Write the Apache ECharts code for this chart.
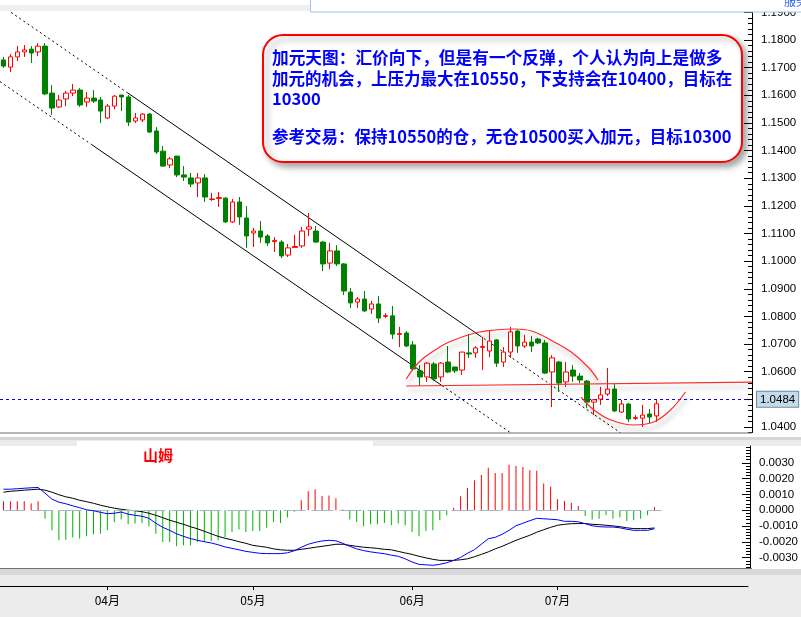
<!DOCTYPE html>
<html>
<head>
<meta charset="utf-8">
<script src="https://cdn.jsdelivr.net/npm/echarts@6/dist/echarts.min.js"></script>
<style>
html,body{margin:0;padding:0;background:#fff;}
#chart{width:801px;height:617px;}
</style>
</head>
<body>
<div id="chart"></div>
<script>
// USD/CAD daily bars, 2007.03.12 – 2007.07.20
const tradeDates = [
  '2007.03.12','2007.03.13','2007.03.14','2007.03.15','2007.03.16',
  '2007.03.19','2007.03.20','2007.03.21','2007.03.22','2007.03.23',
  '2007.03.26','2007.03.27','2007.03.28','2007.03.29','2007.03.30',
  '2007.04.02','2007.04.03','2007.04.04','2007.04.05','2007.04.06',
  '2007.04.09','2007.04.10','2007.04.11','2007.04.12','2007.04.13',
  '2007.04.16','2007.04.17','2007.04.18','2007.04.19','2007.04.20',
  '2007.04.23','2007.04.24','2007.04.25','2007.04.26','2007.04.27',
  '2007.04.30',
  '2007.05.01','2007.05.02','2007.05.03','2007.05.04',
  '2007.05.07','2007.05.08','2007.05.09','2007.05.10','2007.05.11',
  '2007.05.14','2007.05.15','2007.05.16','2007.05.17','2007.05.18',
  '2007.05.21','2007.05.22','2007.05.23','2007.05.24','2007.05.25',
  '2007.05.28','2007.05.29','2007.05.30','2007.05.31',
  '2007.06.01',
  '2007.06.04','2007.06.05','2007.06.06','2007.06.07','2007.06.08',
  '2007.06.11','2007.06.12','2007.06.13','2007.06.14','2007.06.15',
  '2007.06.18','2007.06.19','2007.06.20','2007.06.21','2007.06.22',
  '2007.06.25','2007.06.26','2007.06.27','2007.06.28','2007.06.29',
  '2007.07.02','2007.07.03','2007.07.04','2007.07.05','2007.07.06',
  '2007.07.09','2007.07.10','2007.07.11','2007.07.12','2007.07.13',
  '2007.07.16','2007.07.17','2007.07.18','2007.07.19','2007.07.20'
];

const opens = [
  1.1728,1.1702,1.1739,1.1757,1.1767,1.1757,1.1778,1.1608,1.1558,1.1587,
  1.1608,1.1619,1.1576,1.1590,1.1583,1.1518,1.1561,1.1601,1.1594,1.1507,
  1.1511,1.1532,1.1471,1.1398,1.1348,1.1380,1.1312,1.1301,1.1283,1.1301,
  1.1223,1.1227,1.1228,1.1142,1.1214,1.1156,1.1102,1.1109,1.1091,1.1071,
  1.1069,1.1022,1.1049,1.1055,1.1116,1.1109,1.1069,1.0993,1.1037,1.0990,
  1.0888,1.0852,1.0863,1.0827,1.0845,1.0800,1.0802,1.0735,1.0740,1.0697,
  1.0603,1.0581,1.0628,1.0581,1.0635,1.0617,1.0606,1.0668,1.0668,1.0688,
  1.0675,1.0715,1.0635,1.0671,1.0747,1.0693,1.0707,1.0718,1.0704,1.0599,
  1.0635,1.0563,1.0606,1.0584,1.0566,1.0490,1.0501,1.0519,1.0537,1.0454,
  1.0483,1.0431,1.0432,1.0447,1.0440
];
const closes = [
  1.1706,1.1739,1.1757,1.1764,1.1753,1.1778,1.1605,1.1554,1.1583,1.1608,
  1.1619,1.1565,1.1590,1.1579,1.1543,1.1561,1.1597,1.1594,1.1503,1.1518,
  1.1532,1.1467,1.1395,1.1344,1.1370,1.1312,1.1304,1.1279,1.1301,1.1232,
  1.1225,1.1230,1.1142,1.1214,1.1160,1.1091,1.1109,1.1087,1.1066,1.1075,
  1.1019,1.1048,1.1053,1.1109,1.1124,1.1069,1.0990,1.1037,1.0990,1.0892,
  1.0849,1.0863,1.0820,1.0845,1.0794,1.0803,1.0736,1.0738,1.0693,1.0610,
  1.0581,1.0631,1.0574,1.0631,1.0599,1.0603,1.0671,1.0664,1.0686,1.0691,
  1.0711,1.0631,1.0671,1.0744,1.0693,1.0707,1.0693,1.0704,1.0595,1.0650,
  1.0559,1.0599,1.0584,1.0570,1.0490,1.0498,1.0516,1.0537,1.0458,1.0483,
  1.0429,1.0434,1.0443,1.0436,1.0484
];
const lows = [
  1.1699,1.1684,1.1724,1.1739,1.1717,1.1742,1.1601,1.1529,1.1554,1.1561,
  1.1597,1.1558,1.1558,1.1572,1.1500,1.1514,1.1550,1.1543,1.1489,1.1500,
  1.1503,1.1464,1.1388,1.1341,1.1337,1.1304,1.1290,1.1268,1.1232,1.1214,
  1.1218,1.1196,1.1138,1.1138,1.1131,1.1048,1.1051,1.1066,1.1055,1.1033,
  1.1011,1.1015,1.1048,1.1048,1.1091,1.1066,1.0964,1.0972,1.0982,1.0877,
  1.0830,1.0830,1.0816,1.0809,1.0776,1.0794,1.0718,1.0689,1.0689,1.0603,
  1.0548,1.0563,1.0566,1.0563,1.0595,1.0595,1.0588,1.0650,1.0650,1.0606,
  1.0653,1.0617,1.0617,1.0650,1.0668,1.0686,1.0671,1.0700,1.0592,1.0472,
  1.0527,1.0545,1.0563,1.0559,1.0469,1.0443,1.0480,1.0512,1.0454,1.0451,
  1.0418,1.0425,1.0400,1.0414,1.0418
];
const highs = [
  1.1739,1.1749,1.1778,1.1782,1.1778,1.1789,1.1789,1.1637,1.1601,1.1616,
  1.1641,1.1626,1.1612,1.1619,1.1594,1.1569,1.1601,1.1601,1.1601,1.1536,
  1.1536,1.1536,1.1485,1.1417,1.1377,1.1380,1.1344,1.1319,1.1319,1.1315,
  1.1247,1.1250,1.1232,1.1225,1.1232,1.1199,1.1120,1.1145,1.1098,1.1087,
  1.1076,1.1062,1.1095,1.1124,1.1174,1.1127,1.1073,1.1066,1.1058,1.0993,
  1.0903,1.0870,1.0892,1.0856,1.0874,1.0812,1.0838,1.0762,1.0747,1.0711,
  1.0624,1.0635,1.0635,1.0635,1.0693,1.0617,1.0671,1.0736,1.0693,1.0726,
  1.0747,1.0718,1.0689,1.0762,1.0751,1.0733,1.0729,1.0722,1.0715,1.0660,
  1.0639,1.0635,1.0624,1.0595,1.0570,1.0501,1.0545,1.0613,1.0555,1.0498,
  1.0487,1.0443,1.0480,1.0465,1.0498
];

// MACD panel: histogram, fast line (blue) and signal line (black)
const macdHist = [
  0.00057,0.00057,0.00057,0.00057,0.00042,0.00057,-0.00053,-0.00127,-0.0019,-0.00186,
  -0.00173,-0.00179,-0.00165,-0.00152,-0.00148,-0.00127,-0.00074,-0.00059,-0.00089,-0.00084,
  -0.0008,-0.00101,-0.00148,-0.002,-0.002,-0.00228,-0.00222,-0.00222,-0.002,-0.002,
  -0.00194,-0.0019,-0.00169,-0.00137,-0.00122,-0.00137,-0.00131,-0.00131,-0.0011,-0.00074,
  -0.0008,-0.00046,-0.0001,0.00063,0.0012,0.00133,0.0009,0.00093,0.00076,0.00004,
  -0.00059,-0.00074,-0.00101,-0.00089,-0.00089,-0.0008,-0.00095,-0.00084,-0.00095,-0.00137,
  -0.00165,-0.00131,-0.00127,-0.00063,-0.00032,0.00015,0.00089,0.00141,0.0019,0.00222,
  0.00268,0.00236,0.00236,0.00287,0.0028,0.00274,0.00253,0.00249,0.00169,0.00148,
  0.0007,0.00059,0.00046,0.00027,-0.00036,-0.00059,-0.00053,-0.00032,-0.00053,-0.00046,
  -0.00068,-0.00063,-0.00053,-0.00032,0.00021
];
const macdFast = [
  0.00133,0.00133,0.00136,0.00139,0.00142,0.00144,0.00108,0.0007,0.00051,0.00041,
  0.00028,0.00016,0.00003,-0.00003,-0.00013,-0.00022,-0.00019,-0.00011,-0.00025,-0.00032,
  -0.00038,-0.00051,-0.00082,-0.00108,-0.00127,-0.00149,-0.00165,-0.00179,-0.0019,-0.00199,
  -0.00207,-0.00218,-0.00232,-0.00241,-0.0025,-0.0026,-0.00266,-0.00272,-0.00274,-0.00274,
  -0.00274,-0.00269,-0.00256,-0.00234,-0.00215,-0.00203,-0.00194,-0.0019,-0.00193,-0.00209,
  -0.00228,-0.00244,-0.00255,-0.00263,-0.00269,-0.00275,-0.00284,-0.00291,-0.00307,-0.00327,
  -0.00342,-0.00345,-0.00348,-0.00342,-0.00332,-0.00317,-0.00298,-0.00272,-0.00249,-0.00215,
  -0.0018,-0.00171,-0.00152,-0.00127,-0.00098,-0.00082,-0.00066,-0.00051,-0.00054,-0.00057,
  -0.0006,-0.0007,-0.0007,-0.00073,-0.00085,-0.00098,-0.00104,-0.00106,-0.00106,-0.00111,
  -0.0012,-0.00127,-0.00127,-0.00127,-0.00117
];
const macdSignal = [
  0.00114,0.0012,0.00123,0.00127,0.0013,0.00133,0.00127,0.00114,0.00098,0.00085,
  0.00076,0.00063,0.00054,0.00044,0.00032,0.00022,0.00013,0.00006,0,-0.00003,
  -0.00009,-0.00019,-0.00032,-0.00047,-0.00063,-0.00076,-0.00089,-0.00104,-0.00117,-0.00133,
  -0.00149,-0.00165,-0.00177,-0.00187,-0.00199,-0.00209,-0.00222,-0.00228,-0.00234,-0.00244,
  -0.0025,-0.00253,-0.00253,-0.00247,-0.00241,-0.00234,-0.00228,-0.00222,-0.00215,-0.00215,
  -0.00222,-0.00228,-0.00234,-0.00237,-0.00241,-0.00247,-0.0025,-0.0026,-0.0027,-0.00279,
  -0.00291,-0.00301,-0.0031,-0.00317,-0.00317,-0.00317,-0.00313,-0.00307,-0.00294,-0.00279,
  -0.00263,-0.00244,-0.00228,-0.00209,-0.0019,-0.00174,-0.00158,-0.00139,-0.00123,-0.00108,
  -0.00095,-0.00089,-0.00085,-0.00084,-0.00084,-0.00089,-0.00091,-0.00095,-0.00099,-0.00104,
  -0.00111,-0.00116,-0.00116,-0.00116,-0.00112
];

// axis tick values
const priceLabels = [1.04,1.05,1.06,1.07,1.08,1.09,1.10,1.11,1.12,1.13,1.14,1.15,1.16,1.17,1.18,1.19];
const macdLabels = [-0.003,-0.002,-0.001,0,0.001,0.002,0.003];
const lastPrice = 1.0484;

// drawn objects, as [bar index, price]
const upperChannel = [[1.1,1.1900],[17.81,1.16101],[68.59,1.07302],[88.9,1.0378]];
const lowerChannel = [[-0.5,1.16495],[12.66,1.14223],[63.15,1.05496],[73.07,1.03782]];
const resistanceArc = [[58.0,1.05735],[59.86,1.0635],[62.15,1.06784],[64.16,1.07074],[67.87,1.07399],
  [70.73,1.07508],[73.6,1.07544],[76.03,1.07472],[79.32,1.07074],[81.75,1.06712],[84.18,1.06169],[85.61,1.05699]];
const supportArc = [[83.18,1.05084],[85.04,1.04613],[87.47,1.04251],[90.76,1.04071],[93.62,1.0418],[96.05,1.04613],[98.2,1.05265]];
const resistanceLine = [[58.0,1.05482],[108.2,1.05627]];

const noteLines = [
  '加元天图：汇价向下，但是有一个反弹，个人认为向上是做多',
  '加元的机会，上压力最大在10550，下支持会在10400，目标在',
  '10300',
  '',
  '参考交易：保持10550的仓，无仓10500买入加元，目标10300'
];
const indicatorName = '山姆';

// ---- layout helpers ----
const SLOTS = 108;                       // bars plus empty space on the right
const categories = tradeDates.concat(new Array(SLOTS - tradeDates.length).fill(''));
const candles = opens.map((o, i) => [o, closes[i], lows[i], highs[i]]);

function isMonthStart(index, value) {
  if (!value || index === 0) return false;
  return categories[index - 1].slice(5, 7) !== value.slice(5, 7);
}
function monthLabel(value) { return value ? value.slice(5, 7) + '月' : ''; }

const priceMinor = [];
for (let k = 0; k <= 76; k++) priceMinor.push(+(1.038 + k * 0.002).toFixed(3));
const macdMinor = [];
for (let k = -18; k <= 20; k++) macdMinor.push(+(k * 0.0002).toFixed(4));

const AXIS_FONT = '"Liberation Sans", Arial, sans-serif';
const CJK_FONT = '"Noto Sans CJK SC", sans-serif';

const dotted = [2, 3];
function segLine(points, type, extra) {
  return Object.assign({
    type: 'line', xAxisIndex: 1, yAxisIndex: 0, data: points, symbol: 'none',
    silent: true, animation: false,
    lineStyle: { color: '#000', width: 1, type: type }, z: 3
  }, extra || {});
}
const redShadow = {
  color: '#ff2a2a', width: 1.2, shadowColor: 'rgba(0,0,0,0.35)', shadowBlur: 5,
  shadowOffsetX: 2, shadowOffsetY: 5
};

function valueAxis(grid, min, max, ticks, tickLen, labels) {
  return {
    type: 'value', gridIndex: grid, position: 'right', offset: 2, min: min, max: max,
    axisLine: { show: !!labels, onZero: false, lineStyle: { color: '#000' } },
    axisTick: { show: true, inside: true, length: tickLen, customValues: ticks, lineStyle: { color: '#000' } },
    axisLabel: labels
      ? { customValues: labels, formatter: v => v.toFixed(4), margin: 9, color: '#000', fontSize: 11.5, fontFamily: AXIS_FONT }
      : { show: false },
    splitLine: { show: false }
  };
}

const chart = echarts.init(document.getElementById('chart'));
chart.setOption({
  animation: false,
  backgroundColor: '#ffffff',
  grid: [
    { left: -5, width: 755, top: 12.4, height: 420.1 },
    { left: -5, width: 755, top: 446, height: 122 }
  ],
  xAxis: [
    { type: 'category', gridIndex: 0, data: categories, boundaryGap: true, show: false, axisLine: { onZero: false } },
    { type: 'value', gridIndex: 0, min: -0.5, max: SLOTS - 0.5, show: false, axisLine: { onZero: false } },
    {
      type: 'category', gridIndex: 1, data: categories, boundaryGap: true,
      position: 'bottom', offset: 18,
      axisLine: { show: true, onZero: false, lineStyle: { color: '#000', width: 1 } },
      axisTick: { show: true, alignWithLabel: true, length: 4, interval: isMonthStart, lineStyle: { color: '#000' } },
      axisLabel: { interval: isMonthStart, formatter: monthLabel, color: '#000', fontSize: 12, margin: 8, fontFamily: CJK_FONT },
      splitLine: { show: false }
    }
  ],
  yAxis: [
    valueAxis(0, 1.038, 1.19, priceLabels, 8, priceLabels),
    valueAxis(0, 1.038, 1.19, priceMinor, 4, null),
    valueAxis(1, -0.00365, 0.00406, macdLabels, 8, macdLabels),
    valueAxis(1, -0.00365, 0.00406, macdMinor, 4, null)
  ],
  series: [
    {
      type: 'candlestick', xAxisIndex: 0, yAxisIndex: 0, data: candles,
      barWidth: 5, z: 4,
      itemStyle: { color: '#ffffff', color0: '#008000', borderColor: '#ff0000', borderColor0: '#008000', borderWidth: 1 },
      markLine: {
        silent: true, symbol: ['none', 'none'], z: 3,
        lineStyle: { color: '#0000ff', type: [3, 3], width: 1 },
        label: {
          show: true, position: 'end', formatter: lastPrice.toFixed(4), distance: 7,
          color: '#000', fontSize: 11.5, fontFamily: AXIS_FONT,
          backgroundColor: '#c6dbe9', borderColor: '#6b8aa4', borderWidth: 1, padding: [2, 3, 1, 3]
        },
        data: [{ yAxis: lastPrice }]
      }
    },
    // trend channel: dotted extensions with a solid middle part
    segLine(upperChannel.slice(0, 2), dotted),
    segLine(upperChannel.slice(1, 3), 'solid'),
    segLine(upperChannel.slice(2, 4), dotted),
    segLine(lowerChannel.slice(0, 2), dotted),
    segLine(lowerChannel.slice(1, 3), 'solid'),
    segLine(lowerChannel.slice(2, 4), dotted),
    // hand-drawn red marks with soft shadow
    segLine(resistanceArc, 'solid', { smooth: 0.4, lineStyle: redShadow, z: 5 }),
    segLine(supportArc, 'solid', { smooth: 0.4, lineStyle: redShadow, z: 5 }),
    segLine(resistanceLine, 'solid', { lineStyle: redShadow, z: 5, clip: false }),
    // MACD
    {
      type: 'bar', xAxisIndex: 2, yAxisIndex: 2, data: macdHist, barWidth: 1, silent: true,
      itemStyle: { color: p => (p.value >= 0 ? '#ff0000' : '#00b400') },
      markLine: {
        silent: true, symbol: ['none', 'none'], label: { show: false },
        lineStyle: { color: '#a8b8cc', type: [22, 6], width: 1 },
        data: [[{ xAxis: 0, yAxis: 0 }, { xAxis: macdHist.length, yAxis: 0 }]]
      }
    },
    {
      type: 'line', xAxisIndex: 2, yAxisIndex: 2, data: macdSignal, symbol: 'none', silent: true,
      lineStyle: { color: '#000000', width: 1 }, z: 4
    },
    {
      type: 'line', xAxisIndex: 2, yAxisIndex: 2, data: macdFast, symbol: 'none', silent: true,
      lineStyle: { color: '#0000ff', width: 1 }, z: 5
    }
  ],
  graphic: [
    // window frame pieces
    { type: 'rect', z: -10, shape: { x: 0, y: 5, width: 311, height: 6 }, style: { fill: '#efefef' } },
    { type: 'rect', z: 200, shape: { x: 310.5, y: -2, width: 500, height: 14 }, style: { fill: '#ffffff', stroke: '#a9c1f5', lineWidth: 1 } },
    { type: 'text', z: 201, x: 784, y: 1, style: { text: '服务', fill: '#2f62ff', font: '12px ' + CJK_FONT, verticalAlign: 'middle' } },
    { type: 'line', z: 10, shape: { x1: 0, y1: 433, x2: 752, y2: 433 }, style: { stroke: '#6e6e6e', lineWidth: 1 } },
    { type: 'rect', z: -10, shape: { x: 0, y: 437, width: 801, height: 9 }, style: { fill: '#ebebeb' } },
    { type: 'rect', z: -9, shape: { x: 0, y: 437, width: 801, height: 3 }, style: { fill: '#d6d6d6' } },
    { type: 'rect', z: 20, shape: { x: 77, y: 441, width: 296, height: 21 }, style: { fill: '#ffffff' } },
    { type: 'text', z: 21, x: 158, y: 455, style: { text: indicatorName, fill: '#ff0000', font: 'bold 15px ' + CJK_FONT, align: 'center', verticalAlign: 'middle' } },
    { type: 'rect', z: -10, shape: { x: 0, y: 569, width: 801, height: 48 }, style: { fill: '#ececec' } },
    { type: 'rect', z: -9, shape: { x: 0, y: 569, width: 801, height: 6 }, style: { fill: '#d9d9d9' } },
    { type: 'line', z: 10, shape: { x1: 0, y1: 568.5, x2: 752, y2: 568.5 }, style: { stroke: '#6e6e6e', lineWidth: 1 } },
    // comment box
    {
      type: 'rect', z: 100, shape: { x: 263, y: 35, width: 479, height: 127, r: 20 },
      style: { fill: '#ffffff', stroke: '#ff0000', lineWidth: 2, shadowBlur: 6, shadowOffsetX: 4, shadowOffsetY: 4, shadowColor: 'rgba(0,0,0,0.35)' }
    },
    { type: 'text', z: 101, x: 272, y: 58, style: { text: noteLines[0], fill: '#0000ff', font: 'bold 16.7px ' + CJK_FONT, verticalAlign: 'middle' } },
    { type: 'text', z: 101, x: 272, y: 79, style: { text: noteLines[1], fill: '#0000ff', font: 'bold 16.5px ' + CJK_FONT, verticalAlign: 'middle' } },
    { type: 'text', z: 101, x: 272, y: 99, style: { text: noteLines[2], fill: '#0000ff', font: 'bold 16.5px ' + CJK_FONT, verticalAlign: 'middle' } },
    { type: 'text', z: 101, x: 272, y: 137, style: { text: noteLines[4], fill: '#0000ff', font: 'bold 16.5px ' + CJK_FONT, verticalAlign: 'middle' } }
  ]
});
</script>
</body>
</html>
